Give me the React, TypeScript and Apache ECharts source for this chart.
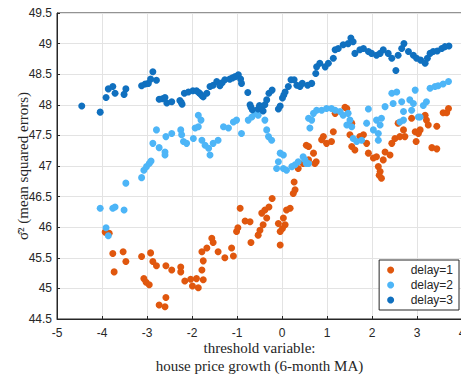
import React, { useEffect, useRef } from "react";
import * as echarts from "echarts";

const xTicks = [-5, -4, -3, -2, -1, 0, 1, 2, 3, 4];
const seriesNames = ["delay=1", "delay=2", "delay=3"];

// delay=1 : [threshold, sigma^2]
const delay1: number[][] = [
  [-3.93, 45.92], [-3.84, 45.9], [-3.76, 45.57], [-3.73, 45.27], [-3.53, 45.6], [-3.47, 45.44],
  [-3.12, 45.52], [-3.07, 45.16], [-3.02, 45.1], [-2.95, 45.06], [-2.92, 45.58], [-2.87, 45.44],
  [-2.79, 45.37], [-2.73, 44.73], [-2.6, 44.7], [-2.58, 44.85], [-2.58, 45.37], [-2.45, 45.3],
  [-2.25, 45.35], [-2.25, 45.27], [-2.16, 45.12], [-2.03, 45.15], [-1.99, 45.04], [-1.9, 45.16],
  [-1.86, 45.01], [-1.78, 45.3], [-1.75, 45.14], [-1.78, 45.6], [-1.75, 45.45], [-1.67, 45.66],
  [-1.56, 45.82], [-1.53, 45.75], [-1.42, 45.6], [-1.27, 45.5], [-1.12, 45.66], [-1.08, 45.53],
  [-1.01, 45.93], [-0.98, 45.99], [-0.93, 46.31], [-0.82, 46.1], [-0.71, 46.09], [-0.69, 45.75],
  [-0.53, 45.87], [-0.49, 45.95], [-0.42, 46.04], [-0.34, 46.15], [-0.45, 46.23], [-0.38, 46.28],
  [-0.29, 46.33], [-0.22, 46.47], [-0.08, 46.06], [-0.04, 45.93], [0.03, 46.15], [0.07, 46.04],
  [0.01, 45.98], [-0.04, 45.71], [0.1, 46.28], [0.18, 46.31], [0.25, 46.55], [0.27, 46.74],
  [0.29, 46.61], [0.36, 46.96], [0.47, 47.04], [0.54, 47.34], [0.59, 47.32], [0.59, 47.1],
  [0.7, 47.21], [0.73, 47.04], [0.76, 47.07], [0.88, 47.43], [0.92, 47.48], [0.99, 47.37],
  [1.1, 47.4], [1.14, 47.56], [1.18, 47.86], [1.4, 47.96], [1.44, 47.94], [1.51, 47.51],
  [1.55, 47.7], [1.55, 47.32], [1.62, 47.26], [1.73, 47.48], [1.81, 47.51], [1.88, 47.37],
  [1.92, 47.21], [2.03, 47.13], [2.1, 47.15], [2.14, 46.99], [2.18, 46.91], [2.16, 46.85],
  [2.21, 46.8], [2.25, 47.1], [2.29, 47.23], [2.4, 47.18], [2.44, 47.37], [2.51, 47.45],
  [2.58, 47.7], [2.62, 47.48], [2.7, 47.59], [2.73, 47.48], [2.88, 47.78], [2.96, 47.56],
  [2.98, 47.4], [3.03, 47.53], [3.07, 47.59], [3.18, 47.83], [3.21, 47.75], [3.25, 47.67],
  [3.33, 47.3], [3.44, 47.65], [3.44, 47.28], [3.58, 47.87], [3.66, 47.87], [3.7, 47.94],
];

// delay=2
const delay2: number[][] = [
  [-4.04, 46.31], [-3.91, 45.99], [-3.86, 45.86], [-3.76, 46.31], [-3.71, 46.33], [-3.51, 46.28],
  [-3.47, 46.72], [-3.12, 46.81], [-3.07, 46.93], [-3.01, 46.99], [-2.95, 47.04], [-2.91, 47.08],
  [-2.87, 47.37], [-2.79, 47.59], [-2.73, 47.3], [-2.6, 47.23], [-2.6, 47.18], [-2.58, 47.48],
  [-2.45, 47.53], [-2.25, 47.59], [-2.23, 47.51], [-2.19, 47.4], [-2.12, 47.37], [-1.97, 47.45],
  [-1.93, 47.62], [-1.86, 47.83], [-1.8, 47.75], [-1.86, 47.64], [-1.78, 47.42], [-1.71, 47.34],
  [-1.63, 47.29], [-1.6, 47.18], [-1.53, 47.37], [-1.42, 47.42], [-1.3, 47.64], [-1.19, 47.62],
  [-1.08, 47.72], [-1.01, 47.75], [-0.9, 47.53], [-0.75, 47.75], [-0.67, 47.8], [-0.6, 47.86],
  [-0.53, 47.83], [-0.38, 47.75], [-0.34, 47.59], [-0.3, 47.48], [-0.23, 47.42], [-0.04, 47.21],
  [0.03, 47.18], [-0.08, 47.07], [-0.12, 46.96], [0.03, 46.96], [0.1, 46.93], [0.22, 46.99],
  [0.29, 47.02], [0.36, 47.07], [0.47, 47.15], [0.51, 47.1], [0.54, 47.04], [0.59, 47.04],
  [0.59, 47.78], [0.62, 47.62], [0.66, 47.75], [0.7, 47.86], [0.77, 47.91], [0.88, 47.91],
  [0.99, 47.94], [1.1, 47.94], [1.18, 47.91], [1.29, 47.89], [1.36, 47.83], [1.44, 47.67],
  [1.47, 47.86], [1.51, 47.75], [1.55, 47.64], [1.58, 47.45], [1.66, 47.4], [1.77, 47.42],
  [1.88, 47.7], [1.92, 47.93], [2.03, 47.59], [2.1, 47.75], [2.14, 47.53], [2.14, 47.42],
  [2.18, 47.67], [2.21, 47.78], [2.29, 47.97], [2.44, 48.19], [2.47, 48.02], [2.55, 48.21],
  [2.62, 47.72], [2.66, 48.05], [2.7, 47.89], [2.7, 47.75], [2.84, 48.08], [2.88, 47.91],
  [2.92, 48.02], [2.96, 48.24], [3.03, 47.8], [3.07, 47.8], [3.14, 47.99], [3.21, 48.05],
  [3.29, 48.27], [3.4, 48.3], [3.47, 48.31], [3.58, 48.34], [3.7, 48.38],
];

// delay=3
const delay3: number[][] = [
  [-4.45, 47.98], [-4.04, 47.88], [-3.91, 48.12], [-3.86, 48.26], [-3.76, 48.3], [-3.71, 48.19],
  [-3.51, 48.17], [-3.47, 48.26], [-3.12, 48.31], [-3.04, 48.34], [-2.97, 48.35], [-2.92, 48.42],
  [-2.87, 48.54], [-2.79, 48.4], [-2.73, 48.09], [-2.66, 48.1], [-2.6, 48.12], [-2.56, 48.03],
  [-2.45, 48.05], [-2.27, 48.07], [-2.24, 48.04], [-2.22, 48.01], [-2.17, 48.19], [-2.08, 48.21],
  [-1.98, 48.23], [-1.9, 48.23], [-1.85, 48.2], [-1.82, 48.18], [-1.78, 48.15], [-1.75, 48.13],
  [-1.67, 48.19], [-1.6, 48.3], [-1.53, 48.32], [-1.45, 48.38], [-1.38, 48.31], [-1.33, 48.36],
  [-1.27, 48.41], [-1.16, 48.42], [-1.1, 48.44], [-1.04, 48.46], [-0.97, 48.49], [-0.92, 48.42],
  [-0.9, 48.35], [-0.76, 48.2], [-0.71, 48.0], [-0.69, 47.96], [-0.66, 47.92], [-0.53, 47.93],
  [-0.5, 47.99], [-0.45, 47.96], [-0.42, 47.9], [-0.38, 48.0], [-0.34, 48.08], [-0.29, 48.19],
  [-0.22, 48.24], [-0.08, 47.93], [-0.04, 47.98], [0.01, 48.11], [0.04, 48.16], [0.07, 48.21],
  [0.14, 48.3], [0.2, 48.41], [0.27, 48.41], [0.33, 48.32], [0.4, 48.3], [0.45, 48.35],
  [0.57, 48.32], [0.66, 48.35], [0.75, 48.51], [0.77, 48.62], [0.84, 48.68], [0.96, 48.62],
  [1.03, 48.68], [1.14, 48.76], [1.18, 48.9], [1.25, 48.92], [1.36, 48.98], [1.47, 49.0],
  [1.53, 49.09], [1.58, 49.03], [1.62, 48.84], [1.73, 48.9], [1.81, 48.92], [1.92, 48.87],
  [1.99, 48.84], [2.1, 48.81], [2.18, 48.84], [2.25, 48.9], [2.36, 48.84], [2.44, 48.76],
  [2.53, 48.56], [2.58, 48.81], [2.66, 48.92], [2.71, 49.0], [2.81, 48.87], [2.92, 48.81],
  [2.99, 48.76], [3.08, 48.73], [3.18, 48.68], [3.23, 48.76], [3.29, 48.84], [3.36, 48.87],
  [3.45, 48.88], [3.55, 48.92], [3.62, 48.95], [3.71, 48.96],
];

const colors = ["#E0570E", "#4DB5F7", "#1070BF"];

export default function App() {
  const ref = useRef<HTMLDivElement>(null);
  useEffect(() => {
    if (!ref.current) return;
    const chart = echarts.init(ref.current, undefined, { renderer: "svg" });
    const axisText = { color: "#262626", fontFamily: "Liberation Sans, Arial, sans-serif", fontSize: 12 };
    const serif = "Liberation Serif, Times New Roman, serif";
    chart.setOption({
      animation: false,
      backgroundColor: "#ffffff",
      grid: {
        left: 57, top: 13, width: 405, height: 306,
        outerBoundsMode: "none", containLabel: false,
        show: true, borderColor: "#262626", borderWidth: 1, backgroundColor: "transparent",
      },
      xAxis: {
        type: "value", min: xTicks[0], max: xTicks[xTicks.length - 1], interval: 1,
        axisLine: { show: true, onZero: false, lineStyle: { color: "#262626" } },
        axisTick: { show: true, inside: true, length: 3, lineStyle: { color: "#262626" } },
        axisLabel: { ...axisText, margin: 8 },
        splitLine: { show: true, lineStyle: { color: "#e3e3e3" } },
        name: "threshold variable:\nhouse price growth (6-month MA)",
        nameLocation: "middle", nameGap: 20, nameMoveOverlap: false,
        nameTextStyle: { fontFamily: serif, fontSize: 15, color: "#262626", lineHeight: 18 },
      },
      yAxis: {
        type: "value", min: 44.5, max: 49.5, interval: 0.5,
        axisLine: { show: true, onZero: false, lineStyle: { color: "#262626" } },
        axisTick: { show: true, inside: true, length: 3, lineStyle: { color: "#262626" } },
        axisLabel: { ...axisText, margin: 5 },
        splitLine: { show: true, lineStyle: { color: "#e3e3e3" } },
        name: "\u03C3\u0302\u00B2 (mean squared errors)",
        nameLocation: "middle", nameGap: 27, nameRotate: 90, nameMoveOverlap: false,
        nameTextStyle: { fontFamily: serif, fontSize: 15, color: "#262626" },
      },
      legend: {
        orient: "vertical", right: 2, top: 260,
        data: seriesNames, icon: "circle",
        itemWidth: 30, itemHeight: 7, itemGap: 1,
        padding: [3, 6, 3, 8],
        borderColor: "#262626", borderWidth: 1, backgroundColor: "#ffffff", borderRadius: 0,
        textStyle: { color: "#262626", fontFamily: "Liberation Sans, Arial, sans-serif", fontSize: 12, lineHeight: 14 },
      },
      series: [delay1, delay2, delay3].map((d, i) => ({
        name: seriesNames[i],
        type: "scatter",
        data: d,
        symbol: "circle",
        symbolSize: 7,
        itemStyle: { color: colors[i], opacity: 1 },
        emphasis: { disabled: true },
      })),
    });
    return () => chart.dispose();
  }, []);
  return <div ref={ref} style={{ position: "fixed", left: 0, top: 0, width: 461, height: 375 }} />;
}
